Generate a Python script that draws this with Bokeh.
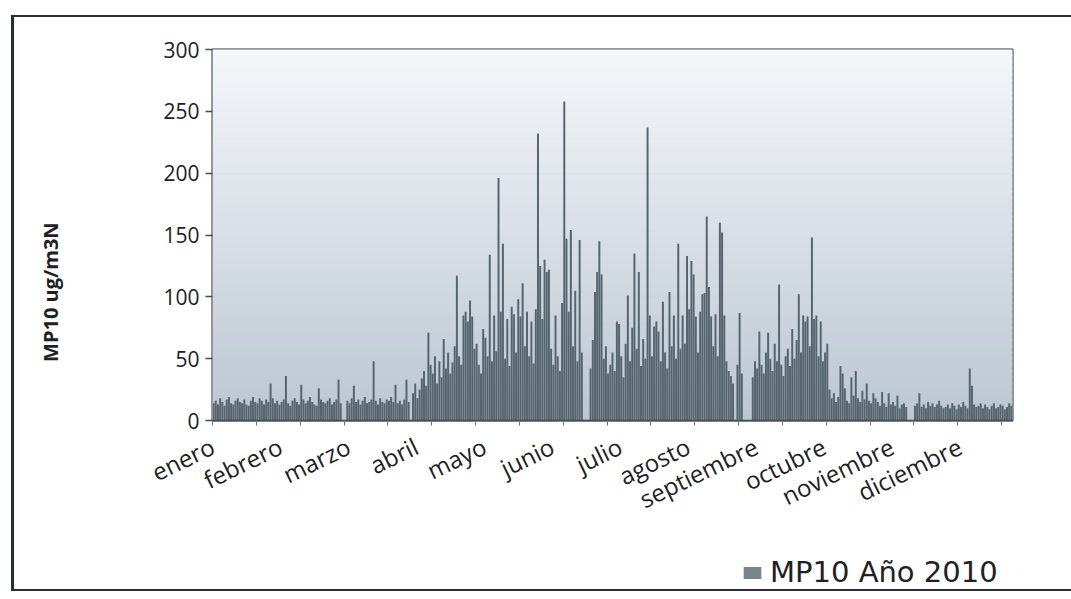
import numpy as np
from bokeh.plotting import figure
from bokeh.layouts import column
from bokeh.models import FixedTicker, Legend, LegendItem
from bokeh.embed import file_html
from bokeh.resources import INLINE

nan = float("nan")

# Month names on the x axis; one label every 31 days, tick marks every 20 days
meses = ["enero", "febrero", "marzo", "abril", "mayo", "junio", "julio",
         "agosto", "septiembre", "octubre", "noviembre", "diciembre"]
paso_etiquetas = 31
paso_marcas = 20

# Daily MP10 concentration (ug/m3N), one list per month; nan = no measurement
enero = [14, 16, 13, 18, 15, 12, 17, 19, 14, 13, 16, 18, 15, 14, 17, 13,
         12, 16, 19, 15, 14, 18, 16, 13, 17, 15, 30, 18, 14, 16, 13]
febrero = [15, 17, 36, 14, 12, 16, 18, 15, 13, 29, 17, 14, 16, 19, 15, 13,
           12, 26, 17, 15, 14, 16, 18, 13, 15, 17, 33, 14]
marzo = [nan, nan, 16, 14, 18, 28, 15, 17, 13, 16, 19, 14, 15, 17, 48, 16,
         13, 18, 15, 14, 17, 16, 19, 15, 29, 14, 16, 13, 17, 33, 15]
abril = [nan, 22, 30, 18, 25, 34, 40, 28, 71, 45, 38, 52, 30, 48, 35, 66,
         42, 55, 38, 47, 60, 117, 52, 45, 85, 88, 80, 97, 84, 58]
mayo = [62, 45, 38, 74, 67, 52, 134, 48, 85, 56, 196, 88, 143, 50, 82, 44,
        92, 86, 55, 98, 84, 111, 60, 88, 52, 80, 46, 90, 232, 125, 82]
junio = [130, 120, 122, 58, 45, 85, 52, 40, 95, 258, 147, 88, 154, 60, 105,
         48, 146, 55, nan, nan, nan, 42, 65, 104, 120, 145, 118, 50, 60, 38]
julio = [45, 55, 40, 80, 78, 52, 35, 62, 101, 48, 75, 135, 58, 120, 44, 66,
         50, 237, 85, 52, 76, 80, 72, 48, 96, 55, 42, 104, 60, 85, 50]
agosto = [143, 58, 85, 62, 133, 90, 129, 118, 84, 55, 88, 102, 103, 165, 108,
          84, 60, 86, 52, 160, 152, 85, 48, 40, 36, 30, nan, 45, 87, 38, nan]
septiembre = [nan, nan, nan, 35, 48, 42, 72, 45, 38, 55, 71, 50, 40, 62, 48,
              110, 45, 36, 52, 58, 44, 74, 50, 65, 102, 55, 85, 80, 84, 60]
octubre = [148, 82, 85, 52, 80, 48, 55, 62, 25, 18, 22, 15, 19, 44, 38, 26,
           16, 14, 35, 20, 40, 18, 15, 24, 17, 30, 16, 14, 22, 18, 15]
noviembre = [12, 23, 14, 11, 22, 13, 15, 12, 20, 10, 13, 14, 11, nan, nan, nan,
             12, 14, 22, 11, 13, 10, 15, 12, 14, 11, 13, 16, 12, 10]
diciembre = [11, 13, 10, 14, 12, 9, 13, 11, 15, 12, 10, 42, 28, 13, 11, 12,
             14, 10, 13, 11, 9, 12, 14, 10, 11, 13, 12, 9, 11, 14, 12]

valores = (enero + febrero + marzo + abril + mayo + junio + julio + agosto
           + septiembre + octubre + noviembre + diciembre)
n_dias = len(valores)
dia = np.arange(n_dias) + 0.5
pos_etiquetas = [paso_etiquetas * i for i in range(len(meses))]

FONT = "Open Sans"
TXT = "#1d2124"
BORDE = "#2a2e31"
BARRA = "#56656d"

p = figure(width=1057, height=515, x_range=(0, n_dias), y_range=(0, 300),
           output_backend="svg", toolbar_location=None,
           min_border_left=198, min_border_right=59,
           min_border_top=32, min_border_bottom=110)
p.background_fill_color = "#ffffff"
p.border_fill_color = "#ffffff"
p.outline_line_color = "#2b3034"
p.outline_line_width = 2

# plot-area gradient: light at the top, blue-grey towards the base
n_bandas = 60
bordes = np.linspace(0, 300, n_bandas + 1)
c_base = np.array([188, 199, 210])
c_tope = np.array([245, 247, 250])
colores = []
for k in range(n_bandas):
    t = (k + 0.5) / n_bandas
    r, g, b = (c_base + (c_tope - c_base) * t).astype(int)
    colores.append(f"#{r:02x}{g:02x}{b:02x}")
p.quad(left=0, right=n_dias, bottom=bordes[:-1], top=bordes[1:],
       fill_color=colores, line_color=colores, line_width=1)

p.vbar(x=dia, top=valores, width=0.9, bottom=0,
       fill_color=BARRA, line_color=None)

# axes
p.xgrid.grid_line_color = None
p.ygrid.grid_line_color = "#454d54"
p.ygrid.grid_line_width = 1.6
p.ygrid.ticker = FixedTicker(ticks=list(range(0, 301, 50)))

p.yaxis.ticker = FixedTicker(ticks=list(range(0, 301, 50)))
p.yaxis.axis_line_color = "#8d98a1"
p.yaxis.major_tick_line_color = "#454d54"
p.yaxis.major_tick_line_width = 1.6
p.yaxis.major_tick_out = 7
p.yaxis.major_tick_in = 0
p.yaxis.minor_tick_line_color = None
p.yaxis.major_label_standoff = 6
p.yaxis.major_label_text_font = FONT
p.yaxis.major_label_text_font_size = "21px"
p.yaxis.major_label_text_color = TXT
# trailing no-break spaces push the title towards the lower half of the axis
p.yaxis.axis_label = "MP10 ug/m3N" + "\u00a0" * 22
p.yaxis.axis_label_text_font = FONT
p.yaxis.axis_label_text_font_style = "bold"
p.yaxis.axis_label_text_font_size = "20px"
p.yaxis.axis_label_text_color = TXT
p.yaxis.axis_label_standoff = 96

p.xaxis.ticker = FixedTicker(ticks=pos_etiquetas,
                             minor_ticks=list(range(0, n_dias, paso_marcas)))
p.xaxis.major_label_overrides = {d: m for d, m in zip(pos_etiquetas, meses)}
p.xaxis.axis_line_color = "#454d54"
p.xaxis.axis_line_width = 1.6
p.xaxis.major_tick_out = 0
p.xaxis.major_tick_in = 0
p.xaxis.minor_tick_out = 5
p.xaxis.minor_tick_in = 0
p.xaxis.minor_tick_line_color = "#6b747b"
p.xaxis.major_label_orientation = 0.45
p.xaxis.major_label_standoff = 19
p.xaxis.major_label_text_font = FONT
p.xaxis.major_label_text_font_size = "24px"
p.xaxis.major_label_text_color = TXT

# legend strip under the chart; the sample bar has zero size, only its
# swatch in the legend is seen
q = figure(width=1057, height=57, x_range=(0, 1), y_range=(0, 1),
           output_backend="svg", toolbar_location=None,
           x_axis_location=None, y_axis_location=None, min_border=0)
q.grid.grid_line_color = None
q.outline_line_color = None
q.background_fill_color = None
q.border_fill_color = None
muestra = q.vbar(x=[0.5], top=[0.5], bottom=0.5, width=0,
                 fill_color=BARRA, fill_alpha=0.8, line_color=None)
leyenda = Legend(items=[LegendItem(label="MP10 Año 2010", renderers=[muestra])],
                 location=(529, 0), orientation="horizontal",
                 padding=0, margin=0, spacing=0,
                 glyph_width=22, glyph_height=15, label_standoff=7,
                 label_text_font="DejaVu Sans", label_text_font_size="29px",
                 label_text_color=TXT, border_line_color=None,
                 background_fill_alpha=0)
q.add_layout(leyenda, "center")

grafico = column(p, q, spacing=0)
# outer chart frame (left, top and bottom edges)
grafico.margin = (15, 0, 0, 11)
grafico.styles = {"border-left": f"3px solid {BORDE}",
                  "border-top": f"2px solid {BORDE}",
                  "border-bottom": f"2px solid {BORDE}"}

open("out.html", "w").write(file_html(grafico, INLINE))
